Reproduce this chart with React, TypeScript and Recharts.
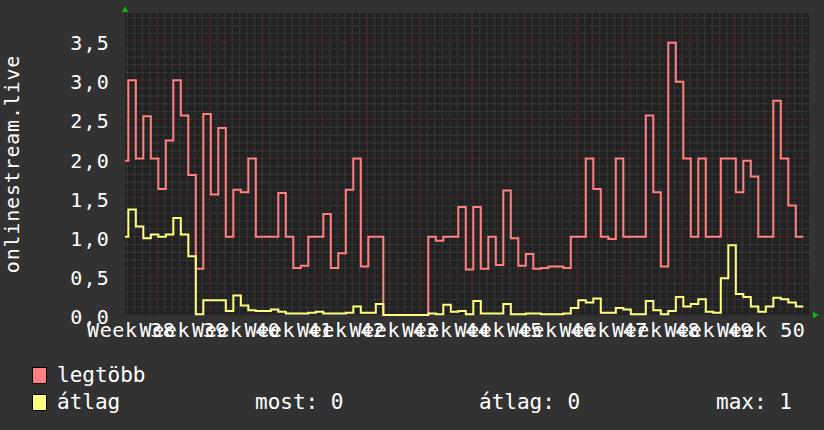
import { CartesianGrid, Label, Line, LineChart, XAxis, YAxis } from "recharts"

// daily values, first entry is the partial day at the left edge
const maxValues = [
  1.97,
  3.0, 2.0, 2.54, 2.0, 1.61, 2.23, 3.0, 2.55, 1.79, 0.59,
  2.57, 1.54, 2.39, 1.0, 1.6, 1.57, 2.0, 1.0, 1.0, 1.0,
  1.56, 1.0, 0.6, 0.63, 1.0, 1.0, 1.29, 0.6, 0.79, 1.6,
  2.0, 0.62, 1.0, 1.0, 0, 0, 0, 0, 0, 0,
  1.0, 0.95, 1.0, 1.0, 1.38, 0.58, 1.38, 0.59, 1.0, 0.64,
  1.59, 0.98, 0.63, 0.78, 0.59, 0.6, 0.62, 0.62, 0.6, 1.0,
  1.0, 2.0, 1.61, 1.0, 0.97, 2.0, 1.0, 1.0, 1.0, 2.55,
  1.57, 0.62, 3.48, 2.98, 2.0, 1.0, 2.0, 1.0, 1.0, 2.0,
  2.0, 1.57, 1.97, 1.77, 1.0, 1.0, 2.74, 2.0, 1.4, 1.0,
]

const avgValues = [
  1.0,
  1.35, 1.13, 0.98, 1.03, 1.0, 1.03, 1.24, 1.03, 0.75, 0.01,
  0.19, 0.19, 0.19, 0.05, 0.25, 0.12, 0.06, 0.05, 0.05, 0.07,
  0.04, 0.02, 0.02, 0.02, 0.03, 0.04, 0.02, 0.02, 0.02, 0.03,
  0.11, 0.03, 0.03, 0.14, 0, 0, 0, 0, 0, 0,
  0.02, 0.01, 0.13, 0.04, 0.05, 0.01, 0.18, 0.02, 0.02, 0.02,
  0.14, 0.01, 0.01, 0.02, 0.02, 0.01, 0.01, 0.01, 0.02, 0.09,
  0.19, 0.16, 0.21, 0.03, 0.03, 0.09, 0.07, 0.01, 0.01, 0.18,
  0.06, 0.01, 0.05, 0.23, 0.11, 0.14, 0.2, 0.04, 0.03, 0.47,
  0.89, 0.27, 0.23, 0.11, 0.04, 0.11, 0.22, 0.2, 0.16, 0.11,
]

const weekLabels = [
  "Week 38", "Week 39", "Week 40", "Week 41", "Week 42", "Week 43", "Week 44",
  "Week 45", "Week 46", "Week 47", "Week 48", "Week 49", "Week 50",
]

const yTicks = [0, 0.5, 1, 1.5, 2, 2.5, 3, 3.5]

const legendStats = ["most: 0", "átlag: 0", "max: 1"]

const X_MIN = -0.444
const X_MAX = 90.89
const Y_MAX = 3.86
const WEEK_START = 3.85
const FONT = "DejaVu Sans Mono"
const RED = "#ff8080"
const YELLOW = "#ffff80"

const data = maxValues.map((v, i) => ({
  t: i === 0 ? X_MIN : i - 1,
  max: v,
  avg: avgValues[i],
}))
data.push({
  t: maxValues.length - 1,
  max: maxValues[maxValues.length - 1],
  avg: avgValues[avgValues.length - 1],
})

const labelTicks = weekLabels.map((_, i) => WEEK_START - 3.5 + 7 * i)
const majorX = weekLabels.map((_, i) => WEEK_START + 7 * i).filter((v) => v < X_MAX)
const minorX: number[] = []
for (let d = WEEK_START - 4; d < X_MAX; d += 1) if (d > X_MIN) minorX.push(d)
const majorY = yTicks.filter((v) => v > 0)
const minorY: number[] = []
for (let k = 1; k <= 38; k++) if (k % 5 !== 0) minorY.push(k / 10)

function XTick({ x, y, payload }: any) {
  const idx = labelTicks.findIndex((v) => Math.abs(v - payload.value) < 1e-6)
  return (
    <text x={x + 0.3} y={y + 14} textAnchor="middle" fill="#fff" fontSize={20} letterSpacing={0.6} fontFamily={FONT}>
      {weekLabels[idx]}
    </text>
  )
}

function YTick({ x, y, payload }: any) {
  return (
    <text x={x + 1} y={y + 9} textAnchor="end" fill="#fff" fontSize={20} letterSpacing={1.2} fontFamily={FONT}>
      {payload.value.toFixed(1).replace(".", ",")}
    </text>
  )
}

function Swatch({ color }: { color: string }) {
  return (
    <span
      style={{
        display: "inline-block",
        width: 13,
        height: 15,
        background: color,
        border: "1px solid #000",
        marginRight: 10,
        verticalAlign: "-2px",
      }}
    />
  )
}

export default function App() {
  return (
    <div
      style={{
        position: "absolute",
        left: 0,
        top: 0,
        width: 824,
        height: 430,
        background: "#323232",
        fontFamily: FONT,
        color: "#fff",
      }}
    >
      <LineChart
        width={824}
        height={430}
        data={data}
        margin={{ top: 13, right: 14, bottom: 85, left: 65 }}
      >
        <CartesianGrid
          fill="#222"
          stroke="#4a4a4a"
          strokeDasharray="1 1"
          horizontalValues={minorY}
          verticalValues={minorX}
        />
        <CartesianGrid
          stroke="#6a2c2c"
          strokeDasharray="1 1"
          horizontalValues={majorY}
          verticalValues={majorX}
        />
        <XAxis
          type="number"
          dataKey="t"
          domain={[X_MIN, X_MAX]}
          ticks={labelTicks}
          interval={0}
          tick={<XTick />}
          tickSize={0}
          tickMargin={8}
          axisLine={false}
          tickLine={false}
          height={30}
        />
        <YAxis
          type="number"
          domain={[0, Y_MAX]}
          ticks={yTicks}
          interval={0}
          tick={<YTick />}
          tickSize={0}
          tickMargin={16}
          axisLine={false}
          tickLine={false}
          width={60}
        >
          <Label
            content={() => (
              <text
                x={19}
                y={164}
                transform="rotate(-90 19 164)"
                textAnchor="middle"
                fill="#fff"
                fontSize={20}
                letterSpacing={0.8}
                fontFamily={FONT}
              >
                onlinestream.live
              </text>
            )}
          />
        </YAxis>
        <Line
          type="stepAfter"
          dataKey="max"
          stroke={RED}
          strokeWidth={2}
          dot={false}
          activeDot={false}
          isAnimationActive={false}
        />
        <Line
          type="stepAfter"
          dataKey="avg"
          stroke={YELLOW}
          strokeWidth={2}
          dot={false}
          activeDot={false}
          isAnimationActive={false}
        />
      </LineChart>

      <svg
        width={824}
        height={430}
        style={{ position: "absolute", left: 0, top: 0, pointerEvents: "none" }}
      >
        <polygon points="122,12 128,12 125,6" fill="#00c000" />
        <polygon points="813,312 813,318 819,315" fill="#00c000" />
      </svg>

      <div style={{ position: "absolute", left: 32, top: 362, fontSize: 21, lineHeight: "27px", whiteSpace: "pre" }}>
        <div>
          <Swatch color={RED} />
          legtöbb
        </div>
        <div>
          <Swatch color={YELLOW} />
          átlag
        </div>
      </div>
      {legendStats.map((s, i) => (
        <div
          key={s}
          style={{
            position: "absolute",
            left: [255, 479, 716][i],
            top: 389,
            fontSize: 21,
            lineHeight: "27px",
            whiteSpace: "pre",
          }}
        >
          {s}
        </div>
      ))}
    </div>
  )
}
